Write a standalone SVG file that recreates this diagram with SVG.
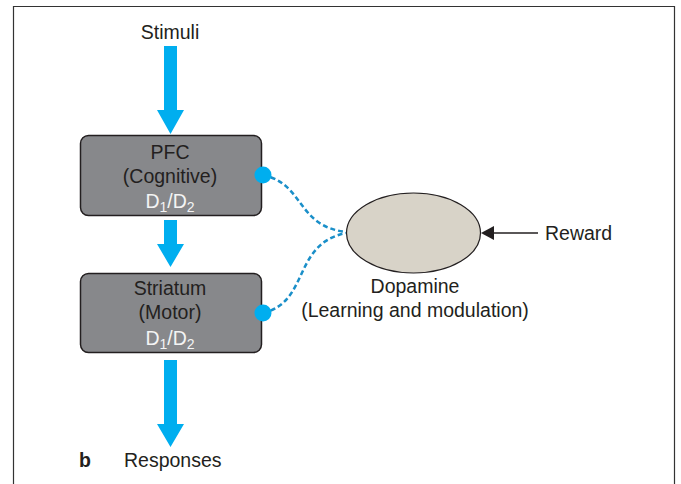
<svg xmlns="http://www.w3.org/2000/svg" width="681" height="484" viewBox="0 0 681 484">
<defs>
<style>
text{font-family:"Liberation Sans",Arial,sans-serif;font-size:19.5px;fill:#231f20}
.c{text-anchor:middle}
.w{fill:#f4f4f4}
.box{fill:#87888b;stroke:#231f20;stroke-width:1.5}
.blue{fill:#00aeef}
.dash{fill:none;stroke:#1a8fc9;stroke-width:2.5;stroke-dasharray:5 3}
</style>
</defs>
<rect width="681" height="484" fill="#fff"/>
<path d="M13.5,484 V6.5 H674.5 V484" fill="none" stroke="#333" stroke-width="1.2"/>
<g id="connectors">
<path class="blue" d="M164,46 H177 V110 H184 L170.5,134 L157,110 H164 Z"/>
<path class="blue" d="M164,220 H177 V244 H184 L170.5,267 L157,244 H164 Z"/>
<path class="blue" d="M164,360 H177 V424 H184 L170.5,447 L157,424 H164 Z"/>
<path class="dash" d="M263,175 C305,184 296,226 346,232"/>
<path class="dash" d="M263,313 C310,302 292,244 346,233"/>
<line x1="538" y1="233" x2="492" y2="233" stroke="#231f20" stroke-width="1.5"/>
<path d="M481,233 L494,226 L494,240 Z" fill="#231f20"/>
</g>
<g id="stimuli"><text class="c" x="170" y="39">Stimuli</text></g>
<g id="pfc">
<rect class="box" x="80.5" y="135.5" width="181" height="80" rx="8"/>
<text class="c" x="170" y="159">PFC</text>
<text class="c" x="170" y="183">(Cognitive)</text>
<text class="c w" x="170" y="208">D<tspan font-size="14" dy="4">1</tspan><tspan dy="-4">/D</tspan><tspan font-size="14" dy="4">2</tspan></text>
<circle class="blue" cx="263" cy="175" r="8.5"/>
</g>
<g id="striatum">
<rect class="box" x="80.5" y="273.5" width="181" height="79" rx="8"/>
<text class="c" x="170" y="295">Striatum</text>
<text class="c" x="170" y="319">(Motor)</text>
<text class="c w" x="170" y="345">D<tspan font-size="14" dy="4">1</tspan><tspan dy="-4">/D</tspan><tspan font-size="14" dy="4">2</tspan></text>
<circle class="blue" cx="263" cy="313" r="8.5"/>
</g>
<g id="dopamine">
<ellipse cx="413.5" cy="233" rx="67" ry="40" fill="#d8d3c8" stroke="#231f20" stroke-width="1.2"/>
<text class="c" x="415" y="293">Dopamine</text>
<text class="c" x="415" y="317">(Learning and modulation)</text>
</g>
<g id="reward"><text x="545" y="240">Reward</text></g>
<g id="responses"><text x="124" y="467">Responses</text></g>
<g id="label-b"><text x="79" y="467" font-weight="bold" font-size="20">b</text></g>
</svg>
